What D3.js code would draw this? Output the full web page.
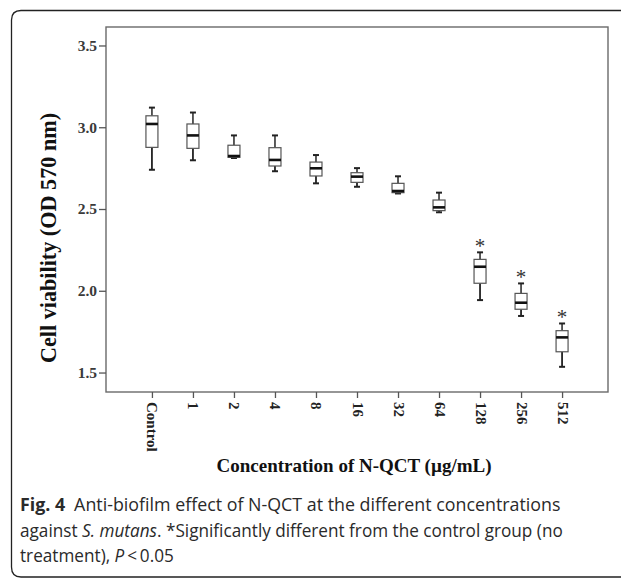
<!DOCTYPE html>
<html>
<head>
<meta charset="utf-8">
<script src="https://cdn.jsdelivr.net/npm/d3@7"></script>
<style>
  html, body { margin: 0; padding: 0; background: #fff; }
  svg { display: block; }
</style>
</head>
<body>
<svg id="chart" width="621" height="578"></svg>
<script>
// Concentrations of N-QCT (µg/mL) tested against S. mutans biofilm
const categories = ["Control", "1", "2", "4", "8", "16", "32", "64", "128", "256", "512"];
// Box-plot summary of OD 570 nm readings per concentration
const whiskerHigh = [3.12, 3.09, 2.95, 2.95, 2.83, 2.75, 2.70, 2.60, 2.235, 2.045, 1.80];
const q3 = [3.07, 3.02, 2.89, 2.875, 2.787, 2.722, 2.657, 2.555, 2.192, 1.984, 1.756];
const medians = [3.02, 2.95, 2.824, 2.80, 2.749, 2.698, 2.61, 2.51, 2.147, 1.927, 1.715];
const q1 = [2.877, 2.871, 2.816, 2.763, 2.702, 2.663, 2.60, 2.49, 2.046, 1.887, 1.627];
const whiskerLow = [2.74, 2.798, 2.812, 2.731, 2.657, 2.636, 2.595, 2.48, 1.943, 1.846, 1.535];
// Groups significantly different from control (P < 0.05)
const significant = [false, false, false, false, false, false, false, false, true, true, true];
const yTicks = [1.5, 2.0, 2.5, 3.0, 3.5];

const yTitle = "Cell viability (OD 570 nm)";
const xTitle = "Concentration of N-QCT (µg/mL)";

const svg = d3.select("#chart");

// Outer panel border (rounded top-left and bottom-left corners)
svg.append("path")
  .attr("d", "M621,10.5 H21 Q11.5,10.5 11.5,20 V567 Q11.5,577 21,577 H621")
  .attr("fill", "none")
  .attr("stroke", "#222")
  .attr("stroke-width", 1.3);

const plot = { left: 106, top: 27, right: 608, bottom: 392 };

const x = d3.scalePoint()
  .domain(categories)
  .range([plot.left, plot.right])
  .padding(1.12);

const y = d3.scaleLinear()
  .domain([1.381, 3.613])
  .range([plot.bottom, plot.top]);

const data = categories.map((c, i) => ({
  c, hi: whiskerHigh[i], q3: q3[i], med: medians[i], q1: q1[i], lo: whiskerLow[i], sig: significant[i]
}));

// Plot frame
svg.append("rect")
  .attr("x", plot.left).attr("y", plot.top)
  .attr("width", plot.right - plot.left).attr("height", plot.bottom - plot.top)
  .attr("fill", "none").attr("stroke", "#6a6a6a").attr("stroke-width", 1.4);

// Y axis
const yAxis = svg.append("g")
  .attr("transform", `translate(${plot.left},0)`)
  .call(d3.axisLeft(y).tickValues(yTicks).tickSize(7).tickPadding(2).tickFormat(d3.format(".1f")));
yAxis.select(".domain").remove();
yAxis.selectAll(".tick line").attr("stroke", "#555").attr("stroke-width", 1.3);
yAxis.selectAll(".tick text")
  .attr("font-family", "'Liberation Serif', 'Times New Roman', serif")
  .attr("font-weight", "bold").attr("font-size", 15.5).attr("fill", "#3a3a3a");

// X axis with vertical labels
const xAxis = svg.append("g")
  .attr("transform", `translate(0,${plot.bottom})`)
  .call(d3.axisBottom(x).tickSize(6));
xAxis.select(".domain").remove();
xAxis.selectAll(".tick line").attr("stroke", "#555").attr("stroke-width", 1.3);
xAxis.selectAll(".tick text")
  .attr("font-family", "'Liberation Serif', 'Times New Roman', serif")
  .attr("font-weight", "bold").attr("font-size", 15).attr("fill", "#222")
  .attr("text-anchor", "start")
  .attr("dy", null).attr("y", 0)
  .attr("transform", "translate(0,10) rotate(90)")
  .attr("dominant-baseline", "central");

// Box plots
const boxW = 12, capW = 6;
const g = svg.append("g");
const box = g.selectAll("g.box").data(data).join("g").attr("class", "box")
  .attr("transform", d => `translate(${x(d.c)},0)`);

box.append("line")
  .attr("x1", 0).attr("x2", 0)
  .attr("y1", d => y(d.hi)).attr("y2", d => y(d.q3))
  .attr("stroke", "#333").attr("stroke-width", 1.6);
box.append("line")
  .attr("x1", 0).attr("x2", 0)
  .attr("y1", d => y(d.q1)).attr("y2", d => y(d.lo))
  .attr("stroke", "#222").attr("stroke-width", 1.8);
box.append("line")
  .attr("x1", -capW / 2).attr("x2", capW / 2)
  .attr("y1", d => y(d.hi)).attr("y2", d => y(d.hi))
  .attr("stroke", "#222").attr("stroke-width", 2);
box.append("line")
  .attr("x1", -capW / 2).attr("x2", capW / 2)
  .attr("y1", d => y(d.lo)).attr("y2", d => y(d.lo))
  .attr("stroke", "#222").attr("stroke-width", 2);
box.append("rect")
  .attr("x", -boxW / 2).attr("width", boxW)
  .attr("y", d => y(d.q3)).attr("height", d => y(d.q1) - y(d.q3))
  .attr("fill", "#fff").attr("stroke", "#555").attr("stroke-width", 1.2);
box.append("line")
  .attr("x1", -boxW / 2).attr("x2", boxW / 2)
  .attr("y1", d => y(d.med)).attr("y2", d => y(d.med))
  .attr("stroke", "#111").attr("stroke-width", 2.6);

// Significance markers
box.filter(d => d.sig).append("text")
  .attr("x", 0).attr("y", d => y(d.hi) + 1)
  .attr("text-anchor", "middle")
  .attr("font-family", "'Liberation Serif', 'Times New Roman', serif")
  .attr("font-size", 21).attr("fill", "#333")
  .text("*");

// Axis titles
svg.append("text")
  .attr("transform", "translate(56,238) rotate(-90)")
  .attr("text-anchor", "middle")
  .attr("font-family", "'Liberation Serif', 'Times New Roman', serif")
  .attr("font-weight", "bold").attr("font-size", 22.2).attr("fill", "#111")
  .text(yTitle);

svg.append("text")
  .attr("x", 354).attr("y", 472)
  .attr("text-anchor", "middle")
  .attr("font-family", "'Liberation Serif', 'Times New Roman', serif")
  .attr("font-weight", "bold").attr("font-size", 19).attr("fill", "#111")
  .text(xTitle);

// Figure caption
const capFont = "'Open Sans', 'Noto Sans', sans-serif";
const captionLines = [
  [{ t: "Fig. 4", w: "bold" }, { t: "\u2002Anti-biofilm effect of N-QCT at the different concentrations" }],
  [{ t: "against " }, { t: "S. mutans", s: "italic" }, { t: ". *Significantly different from the control group (no" }],
  [{ t: "treatment), " }, { t: "P", s: "italic" }, { t: "\u2009<\u20090.05" }]
];
const capBase = [511, 536.5, 561.5];
const capNodes = captionLines.map((parts, i) => {
  const t = svg.append("text")
    .attr("x", 0).attr("y", 0)
    .attr("font-family", capFont).attr("font-size", 18.5).attr("fill", "#2a2a2a");
  parts.forEach(p => {
    t.append("tspan").attr("font-weight", p.w || "normal").attr("font-style", p.s || "normal").text(p.t);
  });
  return t;
});
// Condense the caption to the column width; the last line keeps the body scale
const sx1 = 541 / capNodes[0].node().getComputedTextLength();
const sx2 = 543 / capNodes[1].node().getComputedTextLength();
const capScale = [sx1, sx2, sx2];
capNodes.forEach((t, i) => t.attr("transform", `translate(20,${capBase[i]}) scale(${capScale[i]},1)`));
</script>
</body>
</html>
